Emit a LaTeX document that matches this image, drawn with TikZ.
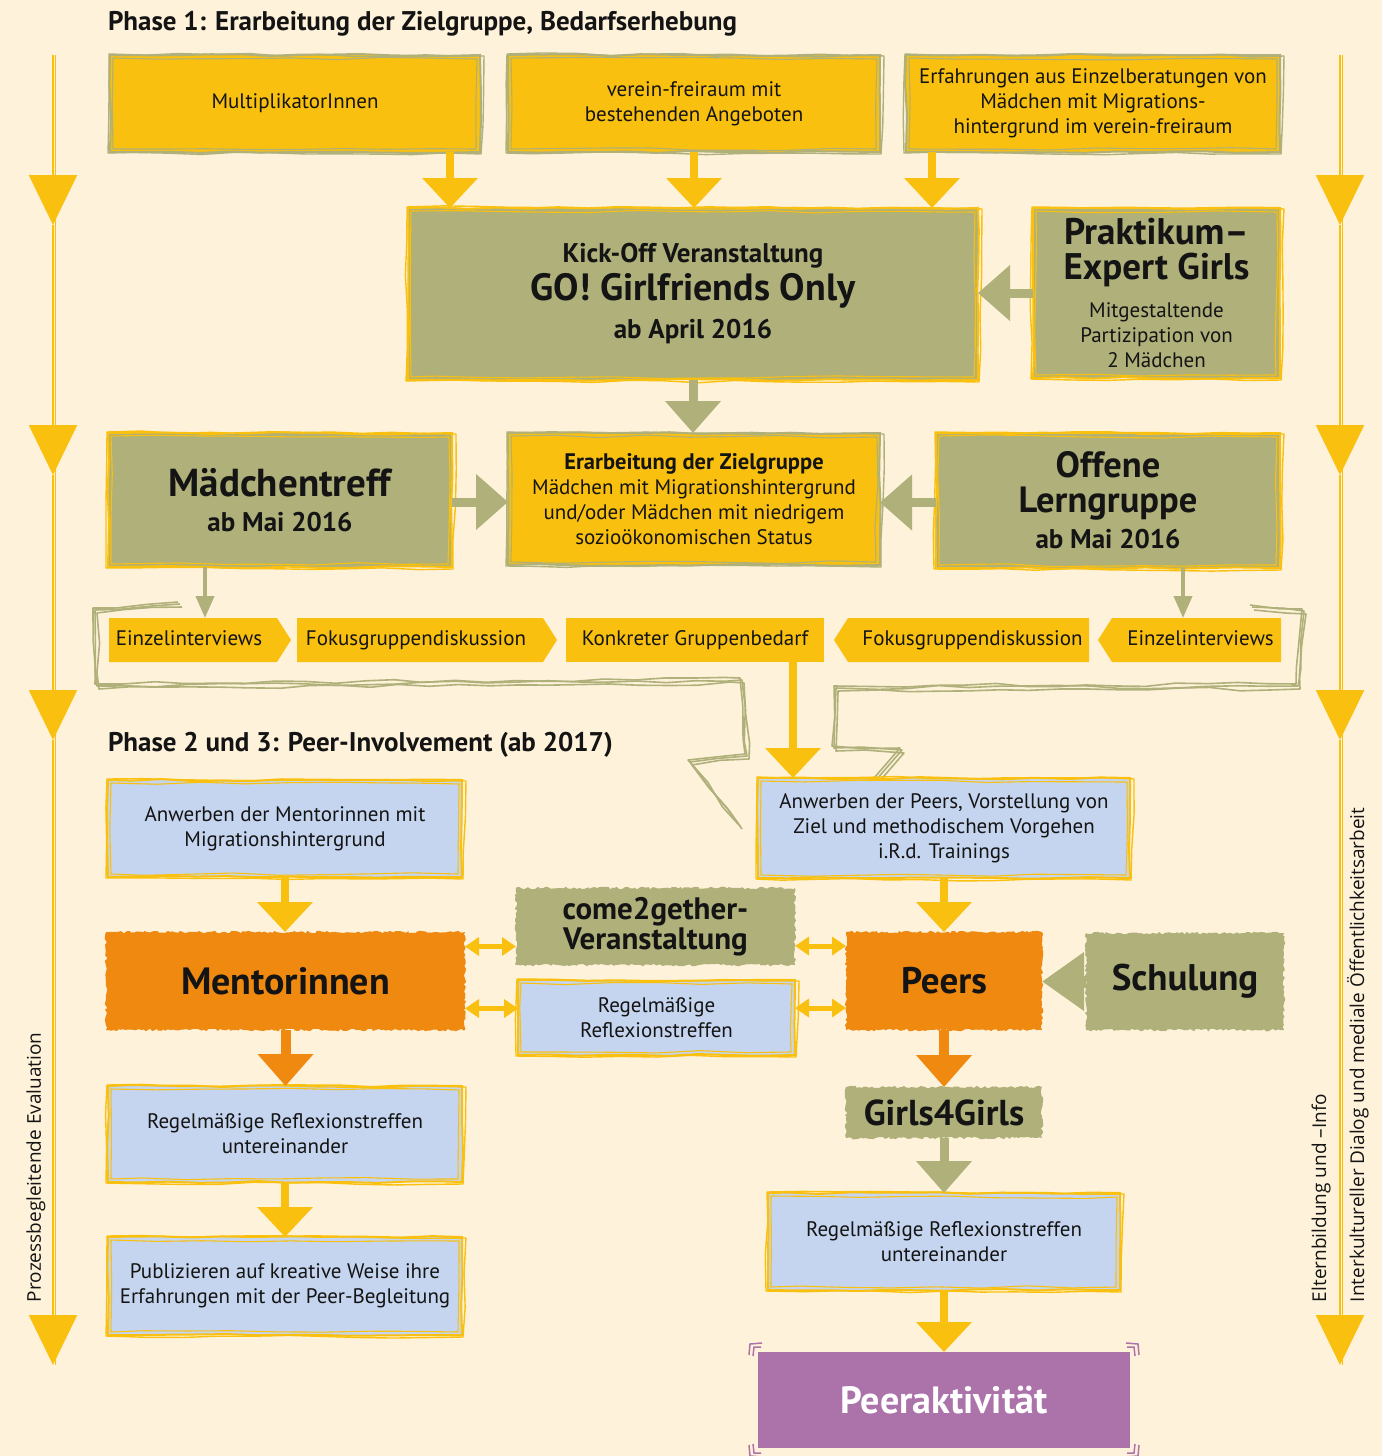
\documentclass[tikz,border=0pt]{standalone}
\usepackage{fontspec}
\setmainfont{PT Sans}
\newfontfamily\sidefont{Open Sans}
\usetikzlibrary{arrows.meta,decorations.pathmorphing,shapes.symbols,calc}
\definecolor{bgc}{RGB}{255,242,219}
\definecolor{gelb}{RGB}{249,192,15}
\definecolor{oliv}{RGB}{175,176,122}
\definecolor{hblau}{RGB}{197,213,239}
\definecolor{orng}{RGB}{239,137,16}
\definecolor{lila}{RGB}{172,114,170}
\definecolor{txt}{RGB}{20,20,20}
\newcommand\fsz[2]{\fontsize{#1}{#2}\selectfont}
\newcommand\skb[2]{%
 \draw[#2,line width=1.4pt,line join=round,decorate,decoration={random steps,segment length=35pt,amplitude=1.3pt}]
  ([shift={(-1,-1)}]#1.north west) -- ([shift={(4,1)}]#1.north east) -- ([shift={(1,2)}]#1.south east) -- ([shift={(-2,1)}]#1.south west) -- cycle;
 \draw[#2,line width=1.1pt,line join=round,decorate,decoration={random steps,segment length=45pt,amplitude=1.5pt}]
  ([shift={(3,3)}]#1.north west) -- ([shift={(-3,4)}]#1.north east) -- ([shift={(-4,-3)}]#1.south east) -- ([shift={(3,-3)}]#1.south west) -- cycle;
}
\tikzset{
 every node/.style={inner sep=0pt, outer sep=0pt, align=center, text=txt},
 wob/.style={decorate, decoration={random steps,segment length=30pt,amplitude=1pt}},
 rag/.style={decorate, decoration={random steps,segment length=2.5pt,amplitude=1.3pt}},
 ybx/.style={fill=gelb, draw=oliv, line width=2pt, wob, font=\fsz{21}{25}},
 gbx/.style={fill=oliv, draw=gelb, line width=2pt, wob, font=\bfseries\fsz{27}{38}},
 bbx/.style={fill=hblau, draw=gelb, line width=2pt, wob, font=\fsz{21}{25}},
 obx/.style={fill=orng, rag, font=\bfseries\fsz{38}{38}},
 rgbx/.style={fill=oliv, rag, font=\bfseries\fsz{37}{38}},
 chev/.style={fill=gelb, signal, signal pointer angle=115, minimum height=44pt, text height=14pt, text depth=4pt, font=\fsz{21}{25}},
 yarr/.style={draw=gelb, line width=8pt, -{Triangle[width=54pt,length=30pt]}},
 oarr/.style={draw=oliv, line width=9pt, -{Triangle[width=54pt,length=32pt]}},
 otarr/.style={draw=oliv, line width=4pt, -{Triangle[width=18pt,length=22pt]}},
 orarr/.style={draw=orng, line width=10pt, -{Triangle[width=54pt,length=32pt]}},
 darr/.style={draw=gelb, line width=5pt, {Triangle[width=18pt,length=14pt]}-{Triangle[width=18pt,length=14pt]}},
 sarr/.style={draw=oliv, line width=12pt, -{Triangle[width=56pt,length=42pt]}},
 sidearr/.style={draw=gelb, line width=2.5pt, -{Triangle[width=48pt,length=50pt]}},
 loopln/.style={draw=oliv, line width=1.6pt, line join=round, decorate, decoration={random steps,segment length=30pt,amplitude=2pt}},
 brk/.style={draw=lila, line width=1.5pt},
 ttl/.style={anchor=base west, font=\bfseries\fsz{27}{30}},
 side/.style={rotate=90, anchor=west, font=\sidefont\fsz{19}{22}},
}
\begin{document}
\begin{tikzpicture}[x=1pt,y=-1pt]
\useasboundingbox (0,0) rectangle (1382,1456);
\fill[bgc] (0,0) rectangle (1382,1456);

% side arrows
\foreach \xx/\nm in {53/L,1340/R}{
 \coordinate (\nm0) at (\xx,55);
 \coordinate (\nm1) at (\xx,225);
 \coordinate (\nm2) at (\xx,475);
 \coordinate (\nm3) at (\xx,740);
 \coordinate (\nm4) at (\xx,1365);
 \draw[sidearr] (\nm0) -- (\nm1);
 \draw[sidearr] (\nm1) -- (\nm2);
 \draw[sidearr] (\nm2) -- (\nm3);
 \draw[sidearr] (\nm3) -- (\nm4);
 \draw[gelb,line width=1pt] ([xshift=2pt]\nm0) -- ([xshift=2pt]\nm4);
}
\node[side] (evl) at (36,1302) {Prozessbegleitende Evaluation};
\node[side] (eltern) at (1321,1302) {Elternbildung und –Info};
\node[side] (ikd) at (1358,1302) {Interkultureller Dialog und mediale Öffentlichkeitsarbeit};

% titles
\node[ttl] (t1) at (108,30) {Phase 1: Erarbeitung der Zielgruppe, Bedarfserhebung};
\node[ttl] (t2) at (108,751) {Phase 2 und 3: Peer-Involvement (ab 2017)};

% phase 1 boxes
\node[ybx, minimum width=370pt, minimum height=97pt] (b1) at (295,103.5) {MultiplikatorInnen};
\node[ybx, minimum width=372pt, minimum height=97pt] (b2) at (694,103.5) {verein-freiraum mit\\bestehenden Angeboten};
\node[ybx, minimum width=374pt, minimum height=97pt] (b3) at (1093,103.5) {Erfahrungen aus Einzelberatungen von\\Mädchen mit Migrations-\\hintergrund im verein-freiraum};
\skb{b1}{oliv}\skb{b2}{oliv}\skb{b3}{oliv}

\node[gbx, minimum width=570pt, minimum height=172pt] (kick) at (693,294) {Kick-Off Veranstaltung\\{\fsz{38}{38}GO! Girlfriends Only}\\ab April 2016};
\node[gbx, minimum width=247pt, minimum height=170pt, font=\bfseries\fsz{37}{35}] (prak) at (1156.5,293) {Praktikum–\\Expert Girls\\[3pt]{\mdseries\fsz{21}{25}Mitgestaltende}\\[-10pt]{\mdseries\fsz{21}{25}Partizipation von}\\[-10pt]{\mdseries\fsz{21}{25}2 Mädchen}};
\skb{kick}{gelb}\skb{prak}{gelb}

\node[gbx, minimum width=344pt, minimum height=134pt, font=\bfseries\fsz{39}{35}] (mtreff) at (280,500) {Mädchentreff\\{\fsz{27}{35}ab Mai 2016}};
\node[ybx, minimum width=372pt, minimum height=132pt] (erarb) at (694,499) {{\bfseries\fsz{22.5}{25}Erarbeitung der Zielgruppe}\\Mädchen mit Migrationshintergrund\\und/oder Mädchen mit niedrigem\\sozioökonomischen Status};
\node[gbx, minimum width=344pt, minimum height=135pt, font=\bfseries\fsz{36.5}{35}] (offene) at (1108,500.5) {Offene\\Lerngruppe\\[1pt]{\fsz{27}{35}ab Mai 2016}};
\skb{mtreff}{gelb}\skb{erarb}{oliv}\skb{offene}{gelb}

% chevrons
\node[chev, signal to=east, minimum width=182pt] (c1) at (193,640) {Einzelinterviews\hspace{8pt}};
\node[chev, signal to=east, minimum width=260pt] (c2) at (420,640) {Fokusgruppendiskussion\hspace{8pt}};
\node[fill=gelb, minimum width=258pt, minimum height=44pt, text height=14pt, text depth=4pt, font=\fsz{21}{25}] (c3) at (695,640) {Konkreter Gruppenbedarf};
\node[chev, signal to=west, minimum width=255pt] (c4) at (968.5,640) {\hspace{8pt}Fokusgruppendiskussion};
\node[chev, signal to=west, minimum width=183pt] (c5) at (1196.5,640) {\hspace{8pt}Einzelinterviews};

% loops
\foreach \dx/\dy in {0/0,2/3,-2/-2}{
 \draw[loopln] (180+\dx,604+\dy) -- (95+\dx,610+\dy) -- (97+\dx,686+\dy) -- (742+\dx,680+\dy) -- (747+\dx,756+\dy) -- (690+\dx,762+\dy) -- (740+\dx,826+\dy);
 \draw[loopln] (1252+\dx,607+\dy) -- (1304+\dx,611+\dy) -- (1298+\dx,686+\dy) -- (836+\dx,688+\dy) -- (834+\dx,748+\dy) -- (902+\dx,750+\dy) -- (876+\dx,780+\dy);
}

% phase 1 arrows
\path ($(b1.south east)+(-30,0)$) coordinate (a1);
\draw[yarr] (a1) -- (a1 |- kick.north);
\draw[yarr] (b2.south) -- (b2.south |- kick.north);
\path ($(b3.south west)+(26,0)$) coordinate (a3);
\draw[yarr] (a3) -- (a3 |- kick.north);
\draw[oarr] (prak.west) -- (prak.west -| kick.east);
\draw[oarr] (kick.south) -- (kick.south |- erarb.north);
\draw[oarr] ([yshift=-2pt]mtreff.east) -- ([yshift=-2pt]mtreff.east -| erarb.west);
\draw[oarr] ([yshift=-2pt]offene.west) -- ([yshift=-2pt]offene.west -| erarb.east);
\path ($(mtreff.south west)+(97,0)$) coordinate (a4);
\draw[otarr] (a4) -- (a4 |- c1.north);
\path ($(offene.south west)+(247,0)$) coordinate (a5);
\draw[otarr] (a5) -- (a5 |- c5.north);

% phase 2 boxes
\node[bbx, minimum width=354pt, minimum height=97pt] (anwM) at (285,828.5) {Anwerben der Mentorinnen mit\\Migrationshintergrund};
\node[bbx, minimum width=372pt, minimum height=100pt] (anwP) at (944,828) {Anwerben der Peers, Vorstellung von\\Ziel und methodischem Vorgehen\\i.R.d. Trainings};
\skb{anwM}{gelb}\skb{anwP}{gelb}
\path ($(c3.south east)+(-31,0)$) coordinate (a6);
\draw[yarr] (a6) -- (a6 |- anwP.north);

\node[obx, minimum width=359pt, minimum height=98pt] (ment) at (285.5,981) {Mentorinnen};
\node[rgbx, minimum width=279pt, minimum height=77pt, font=\bfseries\fsz{31}{30}] (come) at (655.5,926.5) {come2gether-\\Veranstaltung};
\node[bbx, minimum width=277pt, minimum height=75pt] (regM) at (656.5,1017.5) {Regelmäßige\\Reflexionstreffen};
\skb{regM}{gelb}
\node[obx, minimum width=196pt, minimum height=98pt, font=\bfseries\fsz{37}{38}] (peers) at (944,981) {Peers};
\node[rgbx, minimum width=198pt, minimum height=97pt] (schul) at (1185,981.5) {Schulung};

\node[bbx, minimum width=354pt, minimum height=96pt] (regL) at (285,1134) {Regelmäßige Reflexionstreffen\\untereinander};
\node[bbx, minimum width=354pt, minimum height=98pt] (publ) at (285,1286) {Publizieren auf kreative Weise ihre\\Erfahrungen mit der Peer-Begleitung};
\skb{regL}{gelb}\skb{publ}{gelb}

\node[rgbx, minimum width=196pt, minimum height=51pt, font=\bfseries\fsz{36}{38}] (g4g) at (944,1112.5) {Girls4Girls};
\node[bbx, minimum width=352pt, minimum height=97pt] (regR) at (944,1241.5) {Regelmäßige Reflexionstreffen\\untereinander};
\skb{regR}{gelb}
\node[fill=lila, minimum width=372pt, minimum height=96pt, text=white, font=\bfseries\fsz{38}{38}] (pa) at (944,1400) {Peeraktivität};
% brackets
\draw[brk] ([shift={(-9,3)}]pa.north west) -- ([shift={(-8,-8)}]pa.north west) -- ([shift={(4,-9)}]pa.north west);
\draw[brk] ([shift={(-5,4)}]pa.north west) -- ([shift={(-4,-5)}]pa.north west) -- ([shift={(3,-5)}]pa.north west);
\draw[brk] ([shift={(9,3)}]pa.north east) -- ([shift={(8,-8)}]pa.north east) -- ([shift={(-4,-9)}]pa.north east);
\draw[brk] ([shift={(5,4)}]pa.north east) -- ([shift={(4,-5)}]pa.north east) -- ([shift={(-3,-5)}]pa.north east);
\draw[brk] ([shift={(-9,-3)}]pa.south west) -- ([shift={(-8,8)}]pa.south west) -- ([shift={(4,9)}]pa.south west);
\draw[brk] ([shift={(-5,-4)}]pa.south west) -- ([shift={(-4,5)}]pa.south west) -- ([shift={(3,5)}]pa.south west);
\draw[brk] ([shift={(9,-3)}]pa.south east) -- ([shift={(8,8)}]pa.south east) -- ([shift={(-4,9)}]pa.south east);
\draw[brk] ([shift={(5,-4)}]pa.south east) -- ([shift={(4,5)}]pa.south east) -- ([shift={(-3,5)}]pa.south east);

% phase 2 arrows
\draw[yarr] (anwM.south) -- (anwM.south |- ment.north);
\draw[yarr] (anwP.south) -- (anwP.south |- peers.north);
\path ($(come.west)+(0,20)$) coordinate (d1);
\draw[darr] (d1 -| ment.east) -- (d1);
\path ($(regM.west)+(0,-9)$) coordinate (d2);
\draw[darr] (d2 -| ment.east) -- (d2);
\path ($(come.east)+(0,19.5)$) coordinate (d3);
\draw[darr] (d3) -- (d3 -| peers.west);
\path ($(regM.east)+(0,-9.5)$) coordinate (d4);
\draw[darr] (d4) -- (d4 -| peers.west);
\draw[sarr] (schul.west) -- (schul.west -| peers.east);
\draw[orarr] (ment.south) -- (ment.south |- regL.north);
\draw[yarr] (regL.south) -- (regL.south |- publ.north);
\draw[orarr] (peers.south) -- (peers.south |- g4g.north);
\draw[oarr] (g4g.south) -- (g4g.south |- regR.north);
\draw[yarr] (regR.south) -- (regR.south |- pa.north);
\end{tikzpicture}
\end{document}
